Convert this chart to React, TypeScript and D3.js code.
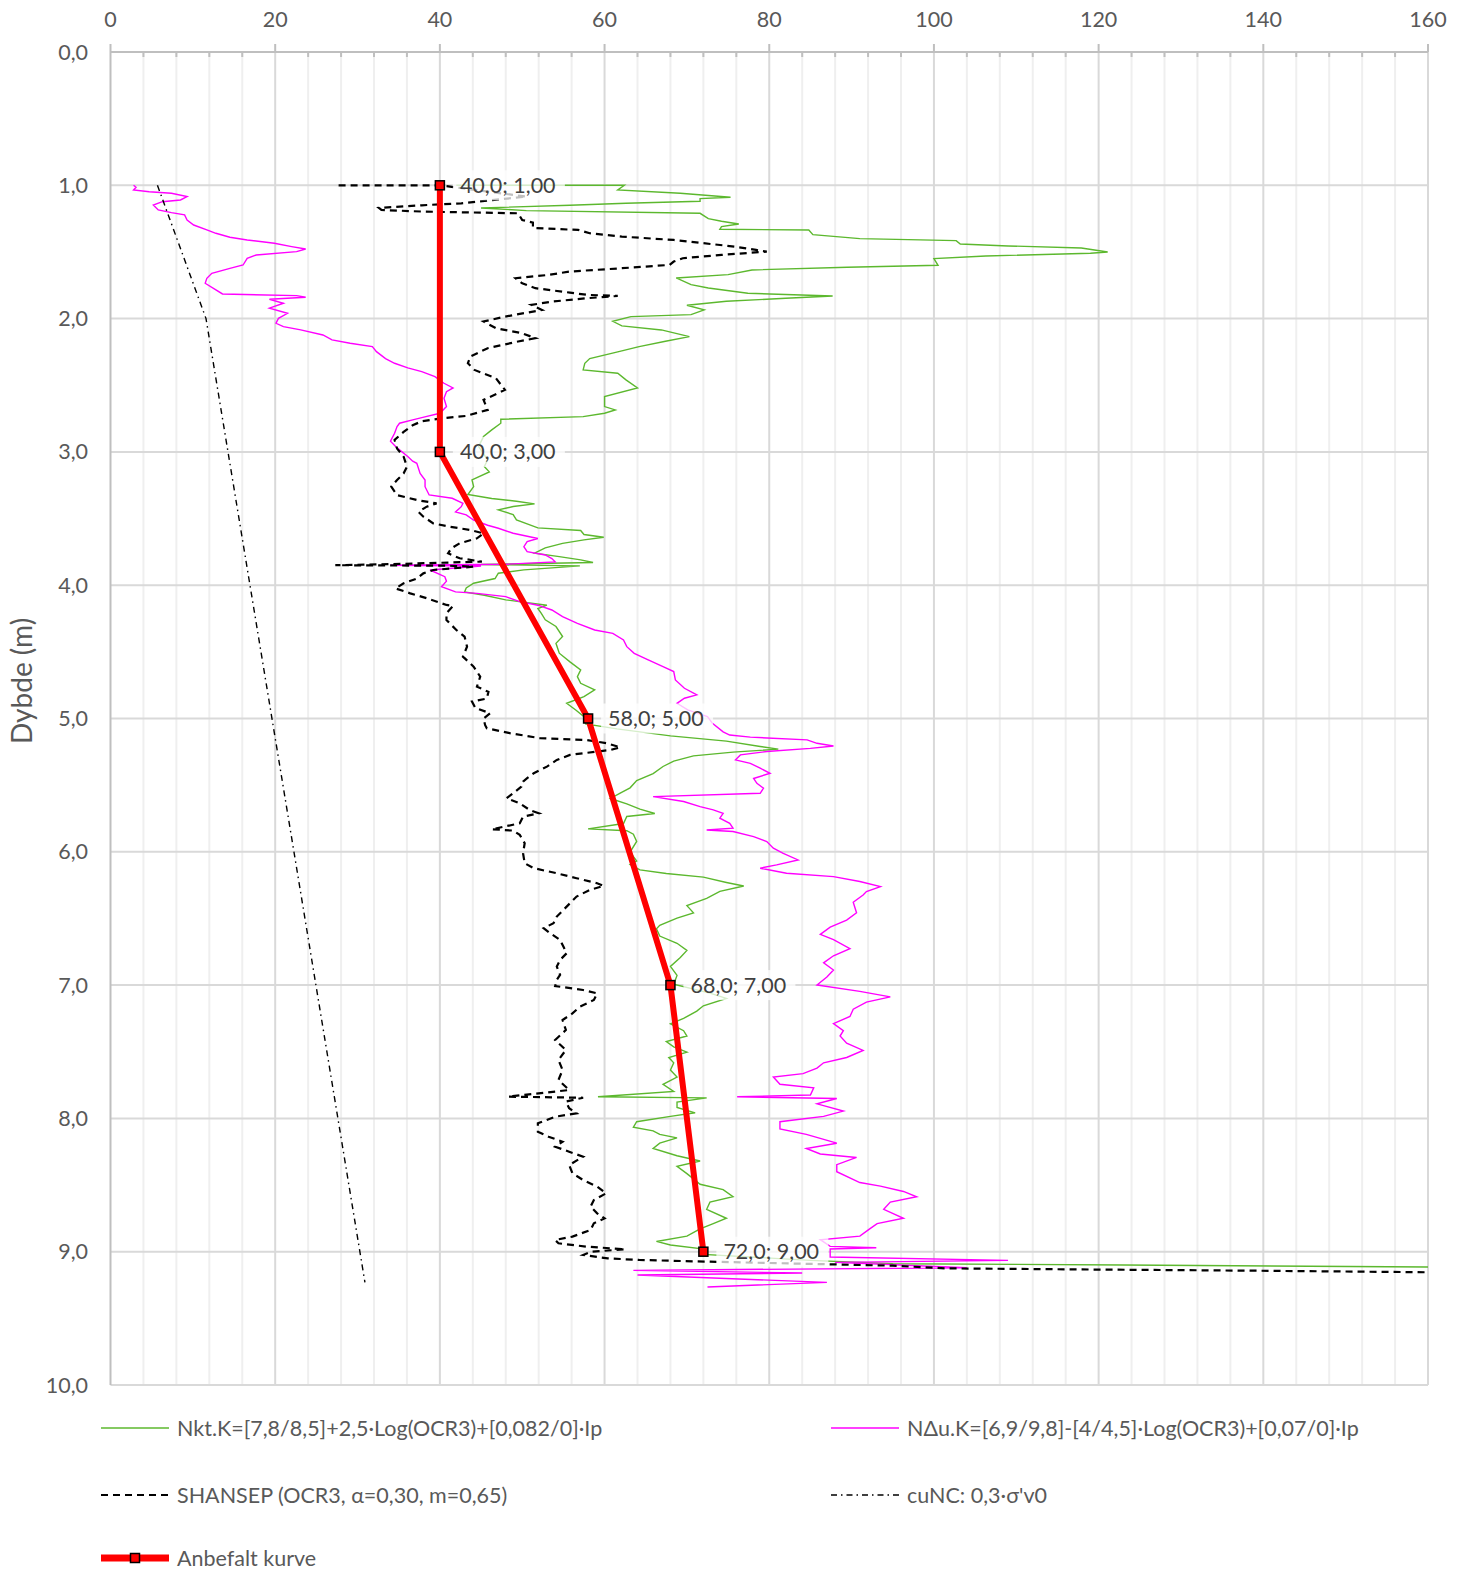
import React from "react";
import * as d3 from "d3";

type P = [number, number];

const xTicks = [0, 20, 40, 60, 80, 100, 120, 140, 160];
const yTicks = [0, 1, 2, 3, 4, 5, 6, 7, 8, 9, 10];

const nktK: P[] = [[42,1.0],[62.4,1.0],[61.6,1.035],[69.2,1.06],[75.3,1.09],[71.6,1.1],[71.6,1.12],[62.6,1.135],[55.8,1.15],[45,1.17],[50.5,1.19],[71.6,1.21],[72.6,1.25],[74.2,1.27],[76.3,1.29],[74.2,1.31],[74,1.33],[84.8,1.335],[85.3,1.37],[91,1.4],[102.7,1.415],[103.2,1.44],[109,1.455],[117.9,1.47],[121.1,1.5],[119,1.51],[106.3,1.53],[100,1.55],[100.5,1.6],[89.5,1.615],[77.9,1.635],[75,1.67],[68.7,1.695],[70.5,1.745],[72.6,1.77],[77.4,1.81],[87.7,1.83],[82,1.847],[74.8,1.87],[70,1.9],[72.1,1.935],[70.5,1.97],[63.2,1.985],[61,2.02],[62.1,2.055],[66.9,2.085],[70.3,2.135],[67.4,2.17],[64.2,2.21],[61.6,2.25],[58.2,2.3],[57.6,2.335],[57.4,2.385],[61.6,2.41],[62.6,2.46],[64,2.52],[60,2.585],[60,2.66],[61.3,2.685],[60,2.71],[57.4,2.735],[47.4,2.755],[47.4,2.785],[46.3,2.835],[45.3,2.885],[44.7,2.96],[45.8,3.06],[45.4,3.11],[46,3.15],[43.9,3.21],[44.1,3.26],[43.4,3.32],[46.3,3.35],[49.3,3.37],[51.5,3.39],[48.9,3.41],[47.1,3.435],[48.9,3.47],[49.3,3.51],[51.9,3.57],[57.1,3.59],[57.5,3.62],[59.9,3.64],[57.5,3.66],[54.9,3.686],[52.8,3.72],[51.5,3.76],[54.5,3.786],[57.1,3.81],[58.6,3.83],[45,3.845],[57,3.855],[50.2,3.885],[47.1,3.91],[46.7,3.95],[44.1,3.985],[43.2,4.02],[43,4.05],[45.4,4.075],[48,4.11],[53,4.15],[51.9,4.175],[52.3,4.21],[52.8,4.26],[54.1,4.31],[54.9,4.385],[54.1,4.436],[54.5,4.51],[55.8,4.575],[57.1,4.635],[56.7,4.686],[57.1,4.736],[58.8,4.785],[57.5,4.836],[55.4,4.886],[56.5,4.936],[57.5,4.986],[57.7,5.04],[61.5,5.078],[68,5.13],[74.8,5.17],[78.9,5.21],[81.1,5.23],[75.6,5.252],[70.8,5.28],[68.4,5.32],[67.1,5.36],[65.9,5.413],[63.9,5.466],[63.1,5.52],[61.9,5.56],[60.7,5.6],[62.7,5.64],[64.3,5.68],[66.1,5.713],[62.7,5.735],[62.3,5.788],[58,5.828],[62.7,5.842],[63.5,5.868],[63.9,5.922],[63.1,6.002],[63.9,6.07],[63.1,6.096],[64.3,6.136],[67.5,6.163],[72,6.19],[74.8,6.23],[76.9,6.257],[74,6.297],[72.4,6.35],[70,6.404],[70.8,6.458],[68.8,6.498],[66.7,6.552],[66.3,6.578],[66.7,6.632],[68.8,6.686],[70,6.74],[69.2,6.793],[68,6.86],[68.8,6.927],[68.4,6.994],[72.8,7.06],[74.8,7.1],[72,7.155],[71.2,7.195],[69.6,7.25],[68,7.29],[69.6,7.342],[70,7.382],[67.5,7.423],[68.4,7.463],[70,7.503],[67.8,7.543],[68.4,7.583],[68,7.637],[68.8,7.69],[67.1,7.744],[68.4,7.798],[59.2,7.838],[72.4,7.846],[68.8,7.878],[68.8,7.918],[71,7.958],[68,7.985],[63.9,8.025],[63.5,8.066],[65.9,8.093],[66.7,8.12],[68.8,8.146],[66.7,8.186],[65.9,8.226],[68.8,8.28],[71.6,8.32],[68.8,8.36],[70,8.414],[70.8,8.454],[71.6,8.494],[74.4,8.534],[75.6,8.588],[72.8,8.628],[72.4,8.682],[74.8,8.749],[73.2,8.789],[71.6,8.829],[70,8.883],[66.3,8.923],[68,8.95],[71.6,8.977],[72,9.02],[85,9.065],[95,9.09],[123,9.1],[160,9.115],[165,9.12]];

const nduK: P[] = [[2.8,1.0],[3.1,1.015],[2.8,1.035],[4.7,1.048],[7.4,1.06],[9.3,1.085],[8.5,1.11],[6.3,1.123],[5.2,1.148],[5.8,1.185],[7.4,1.205],[9,1.222],[9.3,1.26],[10.1,1.298],[11.7,1.335],[12.8,1.36],[14.5,1.39],[16.6,1.41],[19.9,1.435],[22,1.46],[23.7,1.478],[22.6,1.498],[17.7,1.523],[16.6,1.548],[16.1,1.598],[14.5,1.623],[12.3,1.66],[11.7,1.698],[11.5,1.735],[12.8,1.785],[13.6,1.815],[22.6,1.828],[23.7,1.84],[19.3,1.855],[21,1.885],[19.3,1.922],[21.5,1.96],[20.4,1.998],[20.1,2.035],[21,2.06],[23.1,2.085],[25.8,2.123],[26.9,2.16],[29.1,2.185],[31.8,2.21],[32.3,2.248],[33.4,2.3],[34.5,2.335],[36.1,2.37],[37.8,2.398],[39.4,2.435],[40.5,2.485],[41.6,2.52],[40.8,2.548],[40.5,2.598],[40.8,2.66],[40,2.71],[38.3,2.735],[36.7,2.76],[35.1,2.785],[34.8,2.81],[34.5,2.86],[34,2.92],[34.8,2.97],[36.1,3.035],[36.7,3.07],[37.2,3.086],[37.6,3.161],[38.2,3.211],[38.2,3.261],[38.7,3.323],[41.5,3.348],[42.8,3.386],[42.6,3.411],[41.9,3.45],[43.2,3.473],[44.1,3.511],[45.8,3.55],[47.1,3.573],[48.9,3.61],[51.9,3.65],[50.6,3.673],[50.2,3.711],[50.6,3.748],[52.8,3.773],[53.6,3.8],[54,3.825],[48,3.843],[34,3.85],[45,3.856],[38.8,3.886],[40.6,3.936],[40.8,3.97],[40.2,4.011],[41.9,4.05],[44.5,4.061],[48,4.086],[49.7,4.123],[51.9,4.15],[53.6,4.186],[54.9,4.236],[56.7,4.286],[58.8,4.336],[61,4.361],[62.3,4.411],[62.7,4.461],[63.6,4.511],[65.3,4.561],[67.1,4.611],[68.4,4.648],[68.6,4.711],[69.7,4.773],[71.2,4.823],[69.7,4.848],[68.8,4.886],[70.1,4.936],[72.5,4.986],[73.1,5.036],[74.4,5.1],[75.2,5.124],[77.7,5.14],[84.6,5.16],[85.8,5.186],[87.8,5.206],[85,5.224],[79.7,5.248],[76.5,5.273],[75.9,5.31],[77.7,5.336],[78.9,5.373],[80.1,5.411],[78.1,5.45],[78.5,5.486],[79.3,5.523],[78.9,5.561],[65.9,5.586],[69.6,5.623],[71.6,5.661],[73.2,5.686],[74.4,5.711],[74,5.748],[75.2,5.786],[75.6,5.823],[72.4,5.836],[75.6,5.848],[78.1,5.886],[79.7,5.923],[80.5,5.973],[81.7,6.011],[83.5,6.061],[80.9,6.098],[78.9,6.123],[82.1,6.161],[87.8,6.186],[91,6.223],[93.5,6.261],[91.8,6.298],[91.4,6.324],[90.2,6.378],[90.6,6.458],[89.4,6.512],[87.4,6.565],[86.2,6.619],[87.8,6.659],[89.8,6.726],[87.8,6.78],[86.6,6.833],[87.8,6.887],[87,6.94],[85.8,6.999],[91,7.047],[94.7,7.088],[91.8,7.128],[90.2,7.181],[89.8,7.235],[87.8,7.289],[89,7.342],[88.6,7.382],[89.4,7.436],[91.4,7.49],[89.4,7.543],[86.6,7.583],[85.8,7.623],[84.1,7.664],[80.5,7.69],[81.3,7.744],[85.4,7.771],[85,7.824],[76.1,7.838],[88.2,7.851],[85.8,7.891],[89,7.945],[86.6,7.985],[81.3,8.025],[81.3,8.079],[84.5,8.12],[88.2,8.186],[84.5,8.226],[86.2,8.267],[90.6,8.293],[88.2,8.347],[88.2,8.4],[91,8.481],[93.5,8.508],[96.3,8.548],[97.9,8.588],[94.7,8.628],[93.9,8.682],[96.3,8.749],[93.1,8.789],[92.2,8.829],[91,8.883],[86.2,8.91],[87.4,8.96],[93,8.97],[87.4,8.98],[87.4,9.04],[109,9.065],[88,9.08],[104,9.12],[63.5,9.14],[84,9.16],[64,9.175],[87,9.23],[72.5,9.265]];

const shansep: P[] = [[27.7,1.0],[40,1.0],[50.5,1.085],[42.6,1.135],[37.8,1.15],[32.6,1.17],[32.9,1.185],[37.8,1.197],[49.5,1.21],[50,1.26],[51.3,1.28],[51.3,1.32],[56.8,1.335],[58.2,1.36],[62.1,1.385],[68.4,1.41],[75.8,1.46],[78.4,1.485],[79.7,1.497],[74.2,1.522],[69.5,1.547],[68.4,1.572],[67.9,1.597],[62.1,1.622],[55.8,1.647],[53.2,1.672],[49.2,1.697],[50,1.735],[51.6,1.772],[55.8,1.805],[57.9,1.822],[61.6,1.83],[57.9,1.847],[53.7,1.872],[51.1,1.897],[52.4,1.935],[47.9,1.985],[45.3,2.022],[46.8,2.072],[50,2.11],[51.6,2.147],[49.5,2.172],[45.8,2.222],[43.7,2.285],[43.4,2.335],[44.2,2.385],[46.8,2.447],[47.9,2.535],[45.3,2.61],[45.8,2.685],[43.2,2.73],[40,2.75],[37.8,2.77],[36.7,2.8],[35.6,2.85],[34.5,2.91],[34.8,2.975],[35.6,3.036],[36,3.111],[35.6,3.161],[34.8,3.211],[34.1,3.261],[34.8,3.324],[37.2,3.361],[39.6,3.386],[38.4,3.411],[37.4,3.45],[38,3.486],[39.2,3.536],[41.2,3.561],[43.7,3.586],[45.3,3.611],[44.5,3.648],[42.4,3.686],[41.4,3.723],[41,3.761],[42.4,3.798],[45.1,3.823],[35.2,3.84],[27.3,3.85],[41.2,3.854],[44.1,3.861],[39.2,3.886],[38,3.911],[37.2,3.95],[35.6,3.986],[34.6,4.024],[36.4,4.061],[38.4,4.098],[40.8,4.148],[41.6,4.156],[40.8,4.211],[40.8,4.261],[42,4.336],[43,4.386],[43.3,4.461],[42.8,4.536],[44.1,4.611],[44.9,4.686],[44.5,4.761],[45.9,4.8],[45.7,4.85],[43.9,4.873],[44.3,4.92],[46.1,4.961],[45.3,5.0],[45.5,5.05],[45.7,5.073],[48.5,5.11],[52.2,5.148],[57.8,5.161],[60.3,5.186],[61.9,5.216],[60.7,5.236],[55.8,5.273],[54.2,5.311],[53,5.361],[51.4,5.411],[50.6,5.448],[50.1,5.473],[49.9,5.511],[48.9,5.561],[48.1,5.598],[49.7,5.636],[50.9,5.686],[52,5.711],[50.1,5.736],[49.7,5.786],[46.3,5.831],[48.9,5.841],[49.7,5.873],[50.3,5.936],[50.1,6.011],[50.3,6.086],[51.4,6.123],[54.2,6.161],[56.6,6.198],[59.1,6.236],[59.9,6.256],[58.2,6.286],[56.6,6.336],[55.8,6.386],[55,6.436],[54.2,6.486],[53.8,6.536],[52.6,6.573],[53.4,6.611],[54.6,6.661],[55,6.711],[55.4,6.761],[54.6,6.811],[54.2,6.861],[54.6,6.923],[54.2,6.961],[54,7.007],[57.4,7.037],[59.1,7.062],[58.7,7.112],[57,7.162],[56.1,7.212],[54.9,7.262],[55.3,7.337],[54,7.412],[55.3,7.487],[54.4,7.562],[54.9,7.637],[54.4,7.712],[55.7,7.787],[48.3,7.837],[57.4,7.845],[55.3,7.874],[55.7,7.924],[56.6,7.962],[54,7.987],[51.9,8.037],[51.9,8.1],[53.2,8.137],[54.9,8.175],[54,8.212],[55.7,8.25],[57.4,8.287],[55.7,8.35],[56.1,8.412],[57.4,8.462],[59.1,8.512],[60.2,8.562],[58.7,8.612],[58.3,8.662],[59.1,8.712],[60,8.75],[58.7,8.787],[58.3,8.837],[56.1,8.887],[54,8.912],[54.4,8.937],[57.8,8.962],[62.5,8.982],[58.3,9.0],[57.4,9.025],[60.4,9.05],[64.2,9.062],[72.8,9.075],[95,9.105],[101.5,9.125],[122,9.135],[138,9.142],[165,9.157]];

const cuNC: P[] = [[5.7,1.0],[11.6,2.0],[30.9,9.23]];

const anbefalt: P[] = [[40,1],[40,3],[58,5],[68,7],[72,9]];

const legendItems = [
  { key: "nkt", label: "Nkt.K=[7,8/8,5]+2,5·Log(OCR3)+[0,082/0]·Ip" },
  { key: "ndu", label: "NΔu.K=[6,9/9,8]-[4/4,5]·Log(OCR3)+[0,07/0]·Ip" },
  { key: "shansep", label: "SHANSEP (OCR3, α=0,30, m=0,65)" },
  { key: "cunc", label: "cuNC: 0,3·σ'v0" },
  { key: "anb", label: "Anbefalt kurve" },
];

const W = 1466;
const H = 1574;
const L = 110.5, R = 1428, T = 52, B = 1385;
const FONT = "Lato, 'Open Sans', sans-serif";
const TXT = "#595959";
const FS = 21.5;

export default function App() {
  const x = d3.scaleLinear().domain([0, 160]).range([L, R]);
  const y = d3.scaleLinear().domain([0, 10]).range([T, B]);
  const line = d3.line<P>().x((d) => x(d[0])).y((d) => y(d[1]));
  const minor = d3.range(0, 161, 4).filter((v) => v % 20 !== 0);
  const fmt = (v: number, n: number) => v.toFixed(n).replace(".", ",");

  const styles: Record<string, any> = {
    nkt: { stroke: "#5cb82e", strokeWidth: 1.4, fill: "none" },
    ndu: { stroke: "#ff00ff", strokeWidth: 1.4, fill: "none" },
    shansep: { stroke: "#000", strokeWidth: 2.2, strokeDasharray: "7 5", fill: "none" },
    cunc: { stroke: "#000", strokeWidth: 1.4, strokeDasharray: "6 4 1.5 4", fill: "none" },
    anb: { stroke: "#ff0000", strokeWidth: 6, fill: "none", strokeLinejoin: "round" },
  };

  const legendPos = [
    { x: 101, y: 1428 },
    { x: 831, y: 1428 },
    { x: 101, y: 1495 },
    { x: 831, y: 1495 },
    { x: 101, y: 1558 },
  ];

  return (
    <div style={{ position: "absolute", left: 0, top: 0 }}>
      <svg width={W} height={H} style={{ display: "block", background: "#fff" }}>
        <defs>
          <clipPath id="plotclip">
            <rect x={L} y={T} width={R - L} height={B - T} />
          </clipPath>
        </defs>
        {minor.map((v) => (
          <line key={"mn" + v} x1={x(v)} x2={x(v)} y1={T} y2={B} stroke="#efefef" strokeWidth={2} />
        ))}
        {xTicks.slice(1).map((v) => (
          <line key={"mj" + v} x1={x(v)} x2={x(v)} y1={T} y2={B} stroke="#d9d9d9" strokeWidth={2} />
        ))}
        {yTicks.slice(1).map((v) => (
          <line key={"hy" + v} x1={L} x2={R} y1={y(v)} y2={y(v)} stroke="#d9d9d9" strokeWidth={2} />
        ))}
        <line x1={L} x2={R} y1={T} y2={T} stroke="#bfbfbf" strokeWidth={2} />
        <line x1={L} x2={L} y1={T} y2={B} stroke="#bfbfbf" strokeWidth={2} />
        {xTicks.map((v) => (
          <line key={"tk" + v} x1={x(v)} x2={x(v)} y1={T - 8} y2={T} stroke="#bfbfbf" strokeWidth={2} />
        ))}
        {minor.map((v) => (
          <line key={"mt" + v} x1={x(v)} x2={x(v)} y1={T} y2={T + 5} stroke="#bfbfbf" strokeWidth={2} />
        ))}
        {xTicks.map((v) => (
          <text key={"xl" + v} x={x(v)} y={27} textAnchor="middle" fontFamily={FONT} fontSize={FS} fill={TXT}>
            {v}
          </text>
        ))}
        {yTicks.map((v) => (
          <text key={"yl" + v} x={88} y={y(v) + 7.5} textAnchor="end" fontFamily={FONT} fontSize={FS} fill={TXT}>
            {fmt(v, 1)}
          </text>
        ))}
        <text
          transform={`translate(32, 681) rotate(-90)`}
          textAnchor="middle"
          fontFamily={FONT}
          fontSize={28}
          fill={TXT}
        >
          Dybde (m)
        </text>

        <g clipPath="url(#plotclip)">
          <path d={line(nktK) || ""} {...styles.nkt} />
          <path d={line(nduK) || ""} {...styles.ndu} />
          <path d={line(shansep) || ""} {...styles.shansep} />
          <path d={line(cuNC) || ""} {...styles.cunc} />
          <path d={line(anbefalt) || ""} {...styles.anb} />
        </g>
        {anbefalt.map((p, i) => (
          <rect key={"mk" + i} x={x(p[0]) - 4.5} y={y(p[1]) - 4.5} width={9} height={9} fill="#ff0000" stroke="#000" strokeWidth={1.5} />
        ))}
        {anbefalt.map((p, i) => {
          const label = `${fmt(p[0], 1)}; ${fmt(p[1], 2)}`;
          return (
            <g key={"lb" + i}>
              <rect x={x(p[0]) + 13} y={y(p[1]) - 15} width={112} height={30} fill="#fff" opacity={0.75} />
              <text x={x(p[0]) + 20} y={y(p[1]) + 7.5} fontFamily={FONT} fontSize={FS} fill="#404040">
                {label}
              </text>
            </g>
          );
        })}

        {legendItems.map((it, i) => {
          const p = legendPos[i];
          const st = styles[it.key];
          return (
            <g key={"lg" + it.key}>
              <line x1={p.x} x2={p.x + 68} y1={p.y} y2={p.y} {...st} strokeWidth={it.key === "anb" ? 7 : st.strokeWidth} />
              {it.key === "anb" && (
                <rect x={p.x + 34 - 4.5} y={p.y - 4.5} width={9} height={9} fill="#ff0000" stroke="#000" strokeWidth={1.5} />
              )}
              <text x={p.x + 76} y={p.y + 7.5} fontFamily={FONT} fontSize={FS} fill={TXT}>
                {it.label}
              </text>
            </g>
          );
        })}
      </svg>
    </div>
  );
}
